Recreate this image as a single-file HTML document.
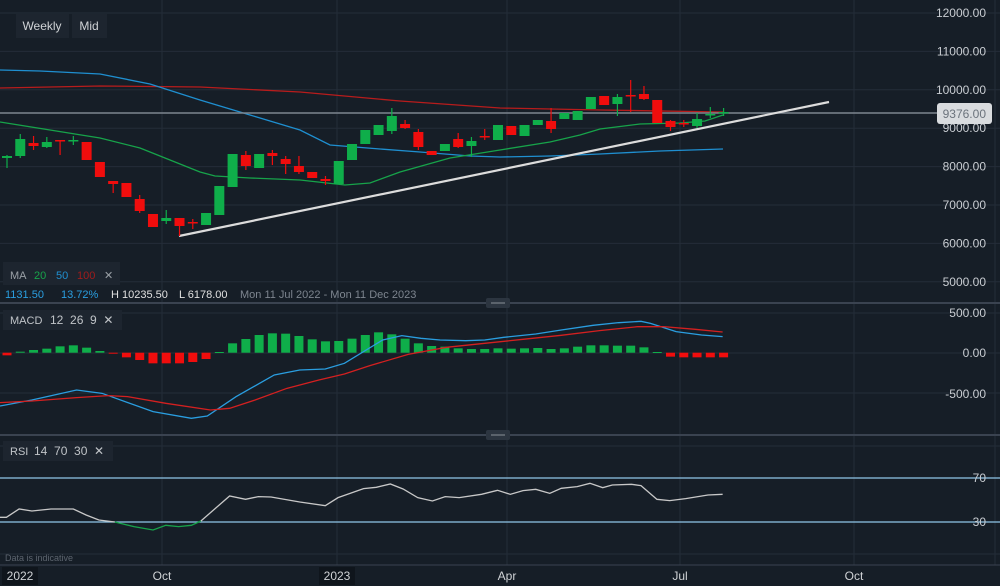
<!DOCTYPE html>
<html><head><meta charset="utf-8">
<style>
body{margin:0;background:#161e27;width:1000px;height:586px;overflow:hidden;font-family:"Liberation Sans",sans-serif;}
svg{position:absolute;left:0;top:0}
</style></head><body>
<svg id="s" width="1000" height="586" xmlns="http://www.w3.org/2000/svg"></svg>
<script>
var s='';
function L(x1,y1,x2,y2,c,w){s+='<line x1="'+x1+'" y1="'+y1+'" x2="'+x2+'" y2="'+y2+'" stroke="'+c+'" stroke-width="'+(w||1)+'"/>';}
function R(x,y,w,h,c,extra){s+='<rect x="'+x+'" y="'+y+'" width="'+w+'" height="'+h+'" fill="'+c+'" '+(extra||'')+'/>';}
function T(x,y,t,c,sz,a,extra){s+='<text x="'+x+'" y="'+y+'" fill="'+c+'" font-size="'+sz+'" text-anchor="'+(a||'start')+'" '+(extra||'')+'>'+t+'</text>';}
function P(pts,c,w,tr){s+='<polyline fill="none" stroke="'+c+'" stroke-width="'+w+'" vector-effect="non-scaling-stroke" '+(tr?'transform="'+tr+'"':'')+' points="'+pts+'"/>';}
R(0,0,1000,586,'#161e27');
var G='#242d38';
// price grid
for(var i=0;i<8;i++){var y=13+i*38.4;L(0,y,1000,y,G);}
[162,337,507,680,854].forEach(function(x){L(x,0,x,565,G);});
L(995,0,995,565,G);
// MACD grid
[313,353,393].forEach(function(y){L(0,y,1000,y,G);});
// RSI grid
[446,554].forEach(function(y){L(0,y,1000,y,G);});
// MAs
P('0,88 100,86 200,87 300,92 400,101 500,108 600,110 723,112','#b81c1c',1.3);
P('0,70 40,71 100,74 150,84 200,100 250,115 300,130 330,145 380,149 420,152 470,156 500,157 550,156 600,154 660,151 723,149','#1f8fd0',1.3);
P('0,122 50,130 100,138 140,148 165,158 200,172 215,176 250,178 300,180 345,185 370,183 400,172 450,158 500,150 550,142 580,135 600,129 640,124 680,123 705,121 723,115','#17a34a',1.3);
// price line
L(0,113,940,113,'#7d858f',1.5);
// trend line
L(179,236,829,102,'#dcdcdc',2.2);
// candles
var C=[[158,156,155,168],[156,139,134,158],[143,146,136,150],[147,142,137,148],[140,141,140,155],[141,140,136,145],[142,160,142,160],[162,177,162,177],[181,184,181,193],[183,197,183,197],[199,211,195,213],[214,227,214,227],[221,218,210,224],[218,226,218,236],[222,223,219,229],[225,213,213,225],[215,186,186,215],[187,154,154,187],[155,166,151,170],[168,154,154,168],[153,156,150,165],[159,164,156,174],[166,172,156,174],[172,178,172,178],[179,181,176,185],[184,161,161,184],[160,144,144,160],[144,130,130,144],[135,125,125,135],[131,116,108,134],[124,128,120,129],[132,147,129,150],[151,155,151,155],[151,144,144,151],[139,147,133,148],[146,141,137,157],[136,137,129,140],[140,125,125,140],[126,135,126,135],[136,125,125,136],[125,120,120,125],[121,129,108,133],[119,113,113,119],[120,111,111,120],[109,97,97,109],[96,105,96,105],[104,97,94,116],[95,96,80,112],[94,99,86,100],[100,123,100,123],[121,127,120,131],[123,124,120,127],[126,119,113,128],[115,114,107,118],[113,112,108,116]];
C.forEach(function(c,i){var x=7+13.27*i;var up=c[1]<c[0];var col=up?'#0fae4a':'#f00d0d';var t=Math.min(c[0],c[1]),b=Math.max(c[0],c[1]);
L(x,c[2],x,c[3],col,1.2);R(x-5,t,10,Math.max(b-t,1.5),col);});
// price axis
var labs=['12000.00','11000.00','10000.00','9000.00','8000.00','7000.00','6000.00','5000.00'];
labs.forEach(function(t,i){T(986,17+i*38.4,t,'#c9cdd2',12,'end');});
R(937,103,55,21,'#d9dcdf','rx="3"');T(986,118,'9376.00','#6b737c',12,'end');
// top buttons
R(16,14,53,24,'#1d252f');T(42,30,'Weekly','#d0d3d6',12,'middle');
R(72,14,35,24,'#1d252f');T(89,30,'Mid','#d0d3d6',12,'middle');
// MA legend
R(3,262,117,23,'#1d252f');
T(10,279,'MA','#9aa0a6',11);T(34,279,'20','#17a34a',11);T(56,279,'50','#1f8fd0',11);T(77,279,'100','#a01c1c',11);T(104,279,'✕','#9aa0a6',11);
T(5,298,'1131.50','#2a9ee0',11);T(61,298,'13.72%','#2a9ee0',11);T(111,298,'H 10235.50','#e0e0e0',11);T(179,298,'L 6178.00','#e0e0e0',11);T(240,298,'Mon 11 Jul 2022 - Mon 11 Dec 2023','#7d858f',11);
// separators
L(0,303,1000,303,'#3a4350',2);R(486,298,24,10,'#2c3540','rx="2"');L(491,303,505,303,'#8a9199',1);
L(0,435,1000,435,'#3a4350',2);R(486,430,24,10,'#2c3540','rx="2"');L(491,435,505,435,'#8a9199',1);
// MACD histogram
var H=[166,155,150,146,139,136,143,153,160,172,180,190,190,190,186,177,156,130,117,105,100,101,108,118,124,123,116,105,97,103,116,130,138,140,145,147,147,145,146,145,144,147,145,140,136,136,137,137,142,156,170,172,172,172,172];
var base=352.7;
H.forEach(function(v,i){var x=7+13.27*i;var y=300+v/3;var up=y<base;var col=up?'#0fae4a':'#f00d0d';var t=Math.min(y,base),h=Math.abs(y-base);R(x-4.5,t,9,Math.max(h,1),col);});
var TR='translate(0,300) scale(0.6378,0.3333)';
P('0,318 50,300 120,270 160,280 240,335 300,355 325,348 370,290 430,225 470,210 510,207 540,190 600,120 630,107 660,115 690,120 730,122 760,120 790,112 840,102 880,90 930,76 970,68 1005,64 1020,70 1060,95 1100,105 1133,110','#2a9ee0',1.3,TR);
P('0,308 50,303 120,293 170,287 200,290 260,310 330,330 360,325 400,300 450,265 500,240 540,222 580,197 640,163 700,142 760,130 820,118 880,106 940,92 1000,80 1040,80 1090,88 1133,96','#d42020',1.3,TR);
T(986,317,'500.00','#c9cdd2',12,'end');T(986,357,'0.00','#c9cdd2',12,'end');T(986,398,'-500.00','#c9cdd2',12,'end');
R(3,310,119,20,'#1d252f');T(10,324,'MACD','#c0c4c8',11);T(50,324,'12 &#160;26 &#160;9 &#160;✕','#c0c4c8',12);
// RSI
L(0,478,1000,478,'#8fc6e8',1.3);L(0,522,1000,522,'#8fc6e8',1.3);
P('0,652 10,652 30,627 50,633 80,627 115,627 135,645 155,660 180,666','#c8c8c8',1.3,TR);
P('180,666 210,680 240,690 260,676 280,680 300,676 315,663','#17a34a',1.3,TR);
P('315,663 360,588 385,598 405,590 425,591 470,606 510,617 530,593 570,566 590,562 612,552 632,567 655,593 678,603 698,590 720,593 755,583 780,571 800,583 820,572 840,568 862,580 880,565 905,560 925,550 945,563 960,555 990,553 1005,557 1030,598 1050,602 1075,596 1110,585 1133,583','#c8c8c8',1.3,TR);
T(986,482,'70','#c9cdd2',12,'end');T(986,526,'30','#c9cdd2',12,'end');
R(3,441,110,20,'#1d252f');T(10,455,'RSI','#c0c4c8',11);T(34,455,'14 &#160;70 &#160;30 &#160;✕','#c0c4c8',12);
T(5,561,'Data is indicative','#5c646e',9);
// bottom axis
L(0,565,1000,565,'#3a4350',1);
R(2,567,36,18,'#0f151c');T(20,580,'2022','#d0d3d6',12,'middle');
T(162,580,'Oct','#d0d3d6',12,'middle');
R(319,567,36,18,'#0f151c');T(337,580,'2023','#d0d3d6',12,'middle');
T(507,580,'Apr','#d0d3d6',12,'middle');T(680,580,'Jul','#d0d3d6',12,'middle');T(854,580,'Oct','#d0d3d6',12,'middle');
document.getElementById('s').innerHTML=s;
</script>
</body></html>
